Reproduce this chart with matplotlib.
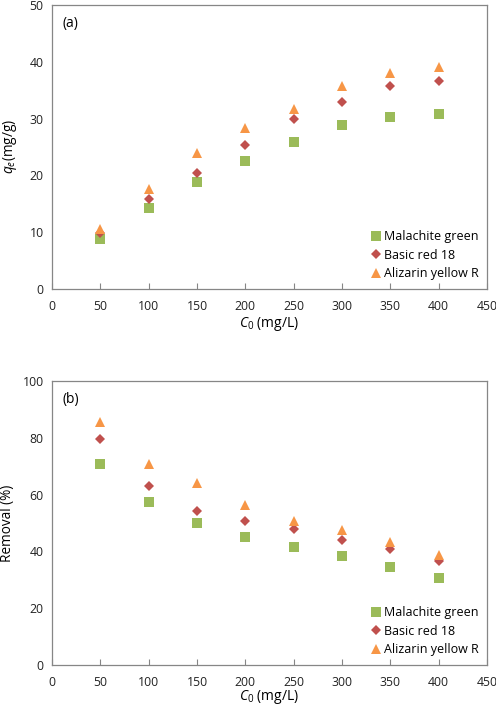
import numpy as np
import matplotlib
matplotlib.use("Agg")
import matplotlib.pyplot as plt

plt.rcParams['font.family'] = ['Open Sans', 'DejaVu Sans']
plt.rcParams['mathtext.fontset'] = 'custom'
plt.rcParams['mathtext.it'] = 'Open Sans:italic'
plt.rcParams['mathtext.rm'] = 'Open Sans'

# Data
c0 = [50, 100, 150, 200, 250, 300, 350, 400]
series = ["Malachite green", "Basic red 18", "Alizarin yellow R"]

qe_mg = [8.8, 14.3, 18.8, 22.5, 25.9, 28.9, 30.2, 30.8]
qe_br = [9.8, 15.8, 20.4, 25.4, 29.9, 33.0, 35.8, 36.6]
qe_ay = [10.5, 17.6, 23.9, 28.3, 31.7, 35.7, 38.0, 39.0]

rem_mg = [70.8, 57.3, 50.1, 45.1, 41.4, 38.5, 34.5, 30.7]
rem_br = [79.5, 63.2, 54.4, 50.8, 47.8, 44.0, 40.8, 36.5]
rem_ay = [85.4, 70.6, 64.0, 56.5, 50.6, 47.5, 43.3, 38.8]

colors = ["#9BBB59", "#C0504D", "#F79646"]
markers = ["s", "D", "^"]
msizes = [6.5, 5.5, 7.5]

fig = plt.figure(figsize=(4.96, 7.12), dpi=100)
ax1 = fig.add_axes([52/496, 1 - 289/712, 435/496, 284/712])
ax2 = fig.add_axes([52/496, 1 - 665/712, 435/496, 284/712])


def style(ax, ys, ymax, ystep, label, ylabel, ylab_x, xlab_y):
    for y, name, col, m, ms in zip(ys, series, colors, markers, msizes):
        ax.plot(c0, y, linestyle="none", marker=m, color=col, markersize=ms,
                markeredgewidth=0, label=name)
    ax.set_xlim(0, 450)
    ax.set_ylim(0, ymax)
    ax.set_xticks(np.arange(0, 451, 50))
    ax.set_yticks(np.arange(0, ymax + 1, ystep))
    for sp in ax.spines.values():
        sp.set_color("#868686")
        sp.set_linewidth(0.9)
    ax.tick_params(axis="x", direction="in", length=4, color="#868686",
                   labelsize=8.8, pad=8, labelcolor="#222222")
    ax.tick_params(axis="y", length=0, labelsize=8.8, pad=6, labelcolor="#222222")
    ax.text(0.025, 0.96, label, transform=ax.transAxes, fontsize=10,
            va="top", ha="left")
    ax.set_xlabel("$C_0$ (mg/L)", fontsize=10)
    ax.set_ylabel(ylabel, fontsize=9.8)
    ax.xaxis.set_label_coords(0.5, xlab_y)
    ax.yaxis.set_label_coords(ylab_x, 0.5)
    ax.legend(loc="lower right", frameon=False, fontsize=9, handletextpad=0.1,
              handlelength=1.0, labelspacing=0.45, borderaxespad=0.3)


style(ax1, [qe_mg, qe_br, qe_ay], 50, 10, "(a)", "$q_e$(mg/g)", -0.077, -0.092)
style(ax2, [rem_mg, rem_br, rem_ay], 100, 20, "(b)", "Removal (%)", -0.084, -0.081)

fig.savefig("out.png", dpi=100)
